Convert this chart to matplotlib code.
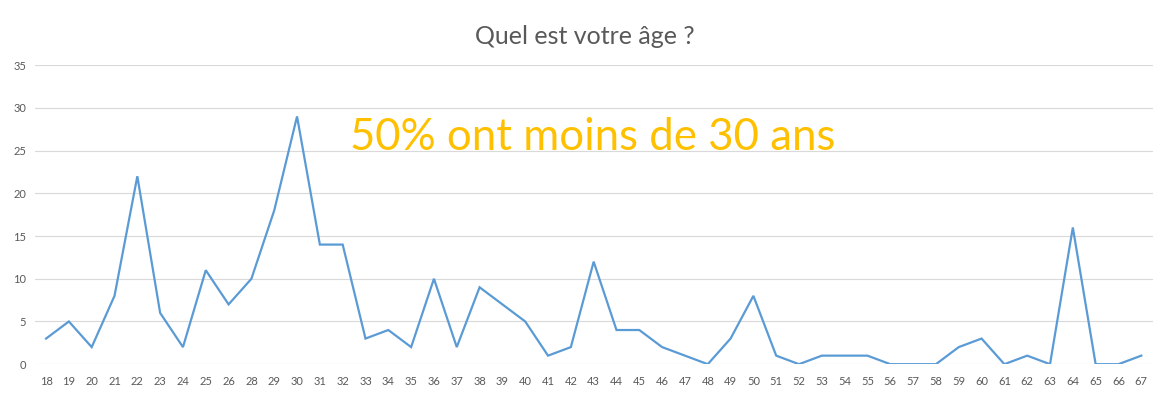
"""Line chart of respondent ages (Quel est votre âge ?)."""

import matplotlib
matplotlib.use("Agg")
import matplotlib.pyplot as plt

ages = ["18", "19", "20", "21", "22", "23", "24", "25", "26", "28", "29", "30",
        "31", "32", "33", "34", "35", "36", "37", "38", "39", "40", "41", "42",
        "43", "44", "45", "46", "47", "48", "49", "50", "51", "52", "53", "54",
        "55", "56", "57", "58", "59", "60", "61", "62", "63", "64", "65", "66", "67"]
counts = [3, 5, 2, 8, 22, 6, 2, 11, 7, 10, 18, 29,
          14, 14, 3, 4, 2, 10, 2, 9, 7, 5, 1, 2,
          12, 4, 4, 2, 1, 0, 3, 8, 1, 0, 1, 1,
          1, 0, 0, 0, 2, 3, 0, 1, 0, 16, 0, 0, 1]
y_ticks = [0, 5, 10, 15, 20, 25, 30, 35]

plt.rcParams["font.family"] = ["Lato", "DejaVu Sans"]
grey = "#595959"

fig = plt.figure(figsize=(11.55, 3.95), dpi=100)
ax = fig.add_axes([0.030, 0.078, 0.968, 0.757])

x = list(range(len(ages)))
ax.plot(x, counts, color="#5B9BD5", linewidth=1.6, solid_joinstyle="miter")

ax.set_xlim(-0.5, len(ages) - 0.5)
ax.set_ylim(0, 35)
ax.set_xticks(x)
ax.set_xticklabels(ages)
ax.set_yticks(y_ticks)
ax.yaxis.grid(True, color="#D9D9D9", linewidth=0.8)
ax.set_axisbelow(True)
for side in ax.spines.values():
    side.set_visible(False)
ax.tick_params(axis="both", length=0, labelsize=8, colors=grey, pad=6)
ax.tick_params(axis="x", pad=8.5)

ax.text(13.3, 25.1, "50% ont moins de 30 ans", color="#FFC000",
        fontsize=31.5, va="baseline", ha="left")
fig.text(0.506, 0.889, "Quel est votre âge ?", color=grey, fontsize=18,
         ha="center", va="baseline")

fig.savefig("out.png", dpi=100)
